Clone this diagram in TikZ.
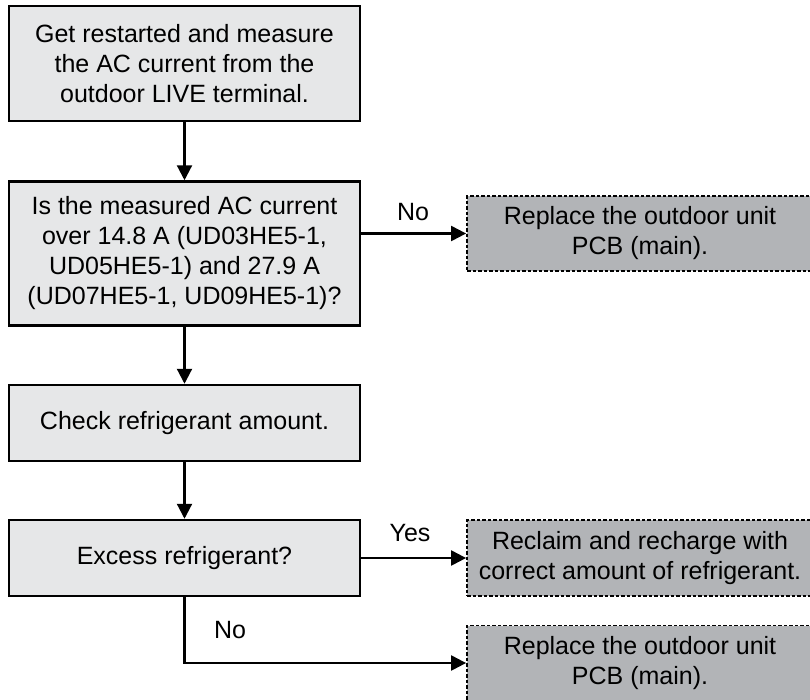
\documentclass[tikz,border=0pt]{standalone}
\usepackage{fontspec}
\setmainfont{Liberation Sans}
\usetikzlibrary{arrows.meta}
\definecolor{boxfill}{RGB}{230,231,232}
\definecolor{dashfill}{RGB}{178,180,183}
\begin{document}
\begin{tikzpicture}[x=1pt,y=-1pt,
  font=\fontsize{25}{30}\selectfont,
  stepbox/.style={draw=black,line width=2.5pt,fill=boxfill,minimum width=351pt,align=center,inner sep=0pt},
  endbox/.style={draw=black,line width=1.8pt,dash pattern=on 3.5pt off 2pt,fill=dashfill,minimum width=348pt,minimum height=75pt,inner sep=0pt},
  endtext/.style={align=center,inner sep=0pt},
  conn/.style={line width=2.2pt,-{Triangle[length=15pt,width=15pt]}},
  lbl/.style={inner sep=0pt}]
\useasboundingbox (0,0) rectangle (810,699);
\clip (0,0) rectangle (810,699);
\node[stepbox,minimum height=115pt] (b1) at (184.5,63.5) {Get restarted and measure\\the AC current from the\\outdoor LIVE terminal.};
\node[stepbox,minimum height=144pt] (b2) at (184.5,253.5) {Is the measured AC current\\over 14.8 A (UD03HE5-1,\\UD05HE5-1) and 27.9 A\\(UD07HE5-1, UD09HE5-1)?};
\node[stepbox,minimum height=76pt] (b3) at (184.5,423) {Check refrigerant amount.};
\node[stepbox,minimum height=76pt] (b4) at (184.5,558) {Excess refrigerant?};
\node[endbox] (d1) at (641,233.5) {};
\node[endbox,minimum height=76pt] (d2) at (641,558) {};
\node[endbox] (d3) at (641,663) {};
\node[endtext] (t1) at (640,233.5) {Replace the outdoor unit\\PCB (main).};
\node[endtext] (t2) at (640,558) {Reclaim and recharge with\\correct amount of refrigerant.};
\node[endtext] (t3) at (640,663) {Replace the outdoor unit\\PCB (main).};
\node[lbl] (l1) at (413,212) {No};
\node[lbl] (l2) at (410,533) {Yes};
\node[lbl] (l3) at (230,630) {No};
\draw[conn] (b1.south) -- (b2.north);
\draw[conn] (b2.south) -- (b3.north);
\draw[conn] (b3.south) -- (b4.north);
\draw[conn] (b2.east |- d1.west) -- (d1.west);
\draw[conn] (b4.east) -- (d2.west);
\draw[conn] (b4.south) |- (d3.west);
\end{tikzpicture}
\end{document}
